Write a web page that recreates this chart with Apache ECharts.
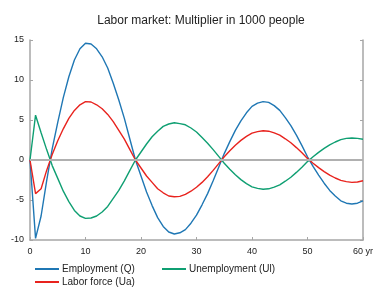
<!DOCTYPE html>
<html>
<head>
<meta charset="utf-8">
<script src="https://cdn.jsdelivr.net/npm/echarts@6/dist/echarts.min.js"></script>
<style>html,body{margin:0;padding:0;background:#fff}#c{width:384px;height:292px}</style>
</head>
<body>
<div id="c"></div>
<script>
const years = [0,1,2,3,4,5,6,7,8,9,10,11,12,13,14,15,16,17,18,19,20,21,22,23,24,25,26,27,28,29,30,31,32,33,34,35,36,37,38,39,40,41,42,43,44,45,46,47,48,49,50,51,52,53,54,55,56,57,58,59,60];
const employment = [0,-9.8,-7.0,-2.6,1.4,4.7,7.8,10.4,12.5,13.9,14.6,14.5,13.9,12.9,11.5,9.6,7.5,5.2,2.6,0.0,-2.0,-4.0,-5.7,-7.2,-8.3,-9.0,-9.25,-9.1,-8.7,-7.9,-6.9,-5.6,-4.2,-2.6,-0.9,0.8,2.3,3.7,4.9,5.9,6.7,7.1,7.3,7.2,6.8,6.2,5.3,4.3,3.1,1.8,0.4,-0.8,-1.9,-2.9,-3.8,-4.5,-5.1,-5.4,-5.5,-5.4,-5.1];
const laborForce = [0,-4.2,-3.6,-1.3,0.7,2.4,3.9,5.2,6.2,6.9,7.3,7.25,6.9,6.4,5.7,4.8,3.7,2.6,1.3,0,-1.0,-2.0,-2.8,-3.6,-4.1,-4.5,-4.6,-4.55,-4.3,-3.9,-3.4,-2.8,-2.1,-1.3,-0.45,0.4,1.15,1.85,2.45,2.95,3.35,3.55,3.65,3.6,3.4,3.1,2.65,2.15,1.55,0.9,0.2,-0.4,-0.95,-1.45,-1.9,-2.25,-2.55,-2.7,-2.8,-2.75,-2.6];
const unemployment = [0,5.6,3.4,1.3,-0.7,-2.3,-3.9,-5.2,-6.3,-7.0,-7.3,-7.25,-7.0,-6.5,-5.8,-4.8,-3.8,-2.6,-1.3,0,1.0,2.0,2.9,3.6,4.2,4.5,4.65,4.55,4.4,4.0,3.5,2.8,2.1,1.3,0.45,-0.4,-1.15,-1.85,-2.45,-2.95,-3.35,-3.55,-3.65,-3.6,-3.4,-3.1,-2.65,-2.15,-1.55,-0.9,-0.2,0.4,0.95,1.45,1.9,2.25,2.55,2.7,2.75,2.7,2.6];
const yTicks = [-10,-5,0,5,10,15];
const xTicks = [0,10,20,30,40,50,60];
const names = ['Employment (Q)','Labor force (Ua)','Unemployment (Ul)'];
const colors = ['#1f77b4','#e8231e','#0f9f72'];

const pair = (xs, ys) => xs.map((x, i) => [x, ys[i]]);
const font = 'Arial, "Liberation Sans", sans-serif';
const axisCol = '#a6a6a6';

const chart = echarts.init(document.getElementById('c'), null, {renderer: 'canvas'});
const lineSeries = (name, data, color) => ({
  name, type: 'line', data: pair(years, data), showSymbol: false, symbol: 'none',
  lineStyle: {color, width: 1.4}, itemStyle: {color}, z: 3, animation: false
});
const legendAt = (name, left, top) => ({
  data: [name], left, top, icon: 'rect', itemWidth: 24, itemHeight: 2, padding: 0,
  textStyle: {fontFamily: font, fontSize: 10, color: '#222', padding: [0,0,0,-2]}
});
chart.setOption({
  animation: false,
  title: {text: 'Labor market: Multiplier in 1000 people', left: 196, textAlign: 'center', top: 10,
    textStyle: {fontFamily: font, fontSize: 12, fontWeight: 'normal', color: '#222'}},
  grid: {left: 30, right: 21, top: 40, bottom: 52},
  legend: [
    legendAt(names[0], 35, 264),
    legendAt(names[1], 35, 277),
    legendAt(names[2], 162, 264)
  ],
  xAxis: {type: 'value', min: xTicks[0], max: xTicks[xTicks.length-1], interval: 10,
    axisLine: {show: true, onZero: false, lineStyle: {color: axisCol, width: 1.5}},
    axisTick: {show: true, inside: true, length: 3, lineStyle: {color: axisCol}},
    splitLine: {show: false},
    axisLabel: {fontFamily: font, fontSize: 9, color: '#222', margin: 7,
      formatter: v => v === 60 ? '60 yr' : String(v)}},
  yAxis: [
    {type: 'value', min: yTicks[0], max: yTicks[yTicks.length-1], interval: 5, position: 'left',
     axisLine: {show: true, lineStyle: {color: axisCol, width: 1.5}},
     axisTick: {show: true, inside: true, length: 3, lineStyle: {color: axisCol}},
     splitLine: {show: false},
     axisLabel: {fontFamily: font, fontSize: 9, color: '#222', margin: 6}},
    {type: 'value', min: yTicks[0], max: yTicks[yTicks.length-1], interval: 5, position: 'right',
     axisLine: {show: true, lineStyle: {color: axisCol, width: 1.5}},
     axisTick: {show: true, inside: true, length: 3, lineStyle: {color: axisCol}},
     splitLine: {show: false}, axisLabel: {show: false}}
  ],
  series: [
    {type: 'line', data: [], z: 1, silent: true,
     markLine: {silent: true, symbol: 'none', label: {show: false},
       lineStyle: {color: '#b0b0b0', width: 2, type: 'solid'}, data: [{yAxis: 0}]}},
    lineSeries(names[0], employment, colors[0]),
    lineSeries(names[1], laborForce, colors[1]),
    lineSeries(names[2], unemployment, colors[2])
  ]
});
</script>
</body>
</html>
